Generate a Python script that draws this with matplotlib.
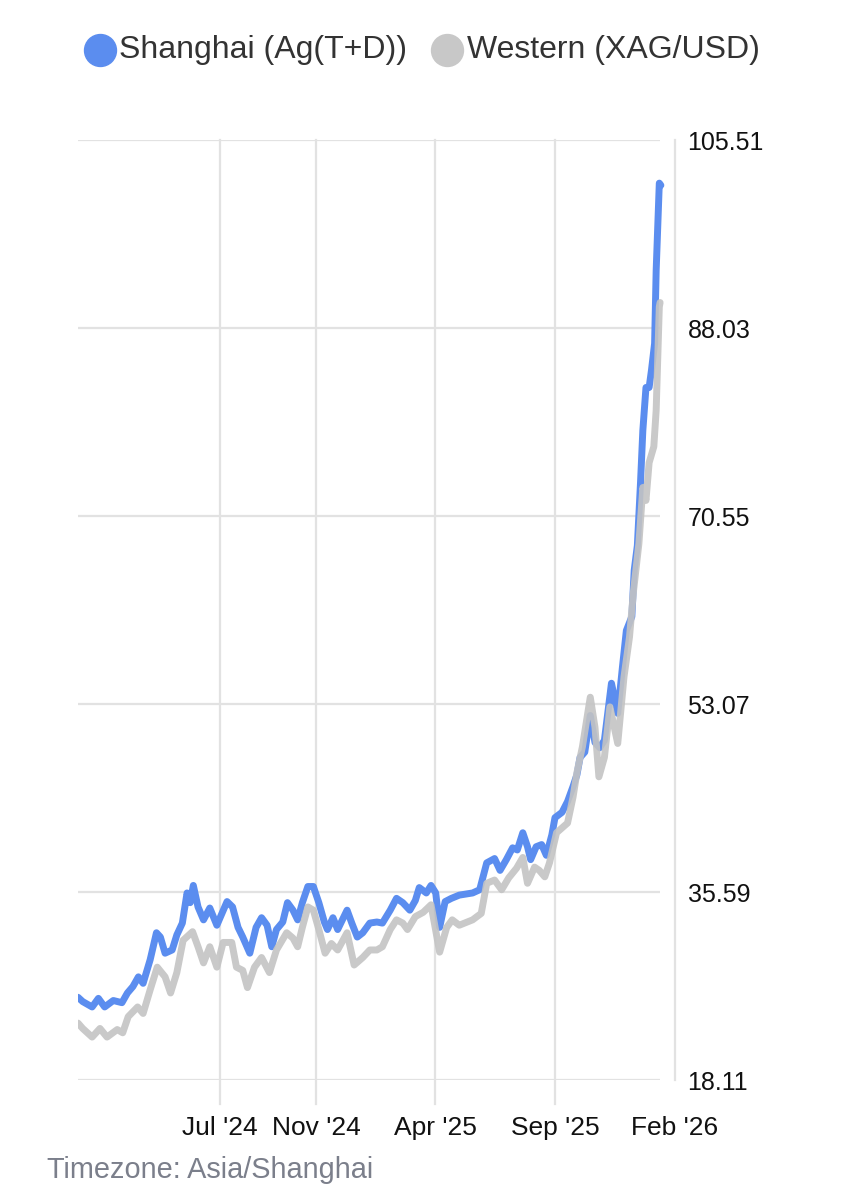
import matplotlib
matplotlib.use("Agg")
import matplotlib.pyplot as plt
from matplotlib.lines import Line2D
import pandas as pd

plt.rcParams['font.family'] = ['Liberation Sans', 'DejaVu Sans']

# Shanghai Ag(T+D), converted to USD/oz
sh_dates = ["2024-01-02", "2024-01-08", "2024-01-20", "2024-01-28", "2024-02-05", "2024-02-16", "2024-02-27",
            "2024-03-05", "2024-03-12", "2024-03-19", "2024-03-25", "2024-04-03", "2024-04-11", "2024-04-16",
            "2024-04-22", "2024-05-01", "2024-05-07", "2024-05-14", "2024-05-20", "2024-05-24", "2024-05-28",
            "2024-06-03", "2024-06-10", "2024-06-18", "2024-06-27", "2024-07-10", "2024-07-17", "2024-07-24",
            "2024-07-30", "2024-08-08", "2024-08-16", "2024-08-23", "2024-08-30", "2024-09-05", "2024-09-11",
            "2024-09-19", "2024-09-25", "2024-10-02", "2024-10-08", "2024-10-14", "2024-10-21", "2024-10-28",
            "2024-11-04", "2024-11-11", "2024-11-15", "2024-11-22", "2024-11-28", "2024-12-10", "2024-12-16",
            "2024-12-23", "2024-12-30", "2025-01-08", "2025-01-17", "2025-01-24", "2025-02-03", "2025-02-11",
            "2025-02-19", "2025-02-28", "2025-03-07", "2025-03-12", "2025-03-21", "2025-03-27", "2025-04-02",
            "2025-04-07", "2025-04-14", "2025-04-22", "2025-05-02", "2025-05-19", "2025-05-28", "2025-06-06",
            "2025-06-16", "2025-06-23", "2025-07-01", "2025-07-09", "2025-07-15", "2025-07-22", "2025-07-28",
            "2025-08-01", "2025-08-08", "2025-08-15", "2025-08-21", "2025-08-28", "2025-09-01", "2025-09-10",
            "2025-09-17", "2025-09-24", "2025-09-29", "2025-10-03", "2025-10-09", "2025-10-16", "2025-10-22",
            "2025-10-28", "2025-11-03", "2025-11-12", "2025-11-20", "2025-11-26", "2025-12-01", "2025-12-08",
            "2025-12-11", "2025-12-15", "2025-12-19", "2025-12-22", "2025-12-26", "2025-12-30", "2026-01-02",
            "2026-01-06", "2026-01-08", "2026-01-12", "2026-01-14"]
sh_vals = [25.8, 25.4, 24.9, 25.7, 24.9, 25.5, 25.3,
           26.2, 26.8, 27.7, 27.1, 29.3, 31.8, 31.4,
           29.9, 30.2, 31.6, 32.7, 35.5, 34.6, 36.2,
           34.2, 33.0, 34.1, 32.5, 34.7, 34.2, 32.3,
           31.4, 29.9, 32.3, 33.2, 32.5, 30.5, 32.1,
           32.8, 34.6, 33.9, 33.0, 34.6, 36.1, 36.1,
           34.6, 32.8, 32.1, 33.2, 32.1, 33.9, 32.7,
           31.4, 31.8, 32.7, 32.8, 32.7, 33.9, 35.0,
           34.6, 33.9, 34.8, 36.0, 35.5, 36.2, 35.5,
           32.3, 34.7, 35.0, 35.3, 35.5, 35.8, 38.3,
           38.7, 37.6, 38.6, 39.7, 39.5, 41.1, 39.8,
           38.6, 39.8, 40.0, 39.0, 40.9, 42.5, 43.0,
           44.0, 45.4, 46.5, 48.1, 48.6, 52.0, 49.5,
           49.0, 49.7, 55.0, 52.2, 56.5, 59.9, 61.2,
           65.5, 67.8, 73.6, 78.5, 82.5, 82.5, 84.1,
           86.6, 93.4, 101.5, 101.3]

# Western XAG/USD
we_dates = ["2024-01-02", "2024-01-08", "2024-01-20", "2024-01-30", "2024-02-08", "2024-02-21", "2024-02-28",
            "2024-03-06", "2024-03-18", "2024-03-25", "2024-04-03", "2024-04-12", "2024-04-22", "2024-04-29",
            "2024-05-07", "2024-05-15", "2024-05-27", "2024-06-03", "2024-06-10", "2024-06-18", "2024-06-27",
            "2024-07-05", "2024-07-16", "2024-07-22", "2024-07-30", "2024-08-05", "2024-08-14", "2024-08-23",
            "2024-09-02", "2024-09-11", "2024-09-24", "2024-10-02", "2024-10-08", "2024-10-14", "2024-10-21",
            "2024-10-28", "2024-11-04", "2024-11-12", "2024-11-20", "2024-11-28", "2024-12-10", "2024-12-19",
            "2024-12-30", "2025-01-08", "2025-01-17", "2025-01-24", "2025-02-03", "2025-02-11", "2025-02-19",
            "2025-02-25", "2025-03-07", "2025-03-17", "2025-03-27", "2025-04-07", "2025-04-16", "2025-04-23",
            "2025-05-02", "2025-05-19", "2025-05-30", "2025-06-06", "2025-06-16", "2025-06-25", "2025-07-04",
            "2025-07-14", "2025-07-22", "2025-07-28", "2025-08-06", "2025-08-12", "2025-08-19", "2025-08-25",
            "2025-09-03", "2025-09-17", "2025-09-24", "2025-09-29", "2025-10-06", "2025-10-16", "2025-10-22",
            "2025-10-27", "2025-11-03", "2025-11-10", "2025-11-20", "2025-11-28", "2025-12-05", "2025-12-10",
            "2025-12-17", "2025-12-22", "2025-12-26", "2025-12-30", "2026-01-05", "2026-01-08", "2026-01-12",
            "2026-01-13"]
we_vals = [23.4, 22.9, 22.1, 22.9, 22.1, 22.8, 22.5,
           24.0, 24.9, 24.3, 26.5, 28.6, 27.7, 26.2,
           28.1, 31.1, 31.9, 30.5, 29.0, 30.5, 28.6,
           30.9, 30.9, 28.6, 28.3, 26.7, 28.6, 29.5,
           28.1, 30.2, 31.8, 31.3, 30.5, 32.3, 34.2,
           33.9, 32.1, 29.9, 30.8, 30.2, 31.8, 28.8,
           29.5, 30.2, 30.2, 30.5, 32.1, 33.0, 32.7,
           32.1, 33.3, 33.7, 34.4, 30.0, 32.3, 33.0,
           32.5, 33.0, 33.6, 36.4, 36.7, 35.8, 36.9,
           37.8, 38.8, 36.4, 37.9, 37.6, 37.0, 38.3,
           41.1, 42.0, 44.4, 46.7, 49.1, 53.7, 50.9,
           46.3, 48.1, 52.8, 49.4, 55.6, 59.3, 63.5,
           68.0, 73.2, 72.0, 75.5, 77.0, 80.4, 90.0,
           90.4]

y_ticks = [18.11, 35.59, 53.07, 70.55, 88.03, 105.51]
x_tick_dates = ["2024-07-01", "2024-11-01", "2025-04-01", "2025-09-01", "2026-02-01"]
x_tick_labels = ["Jul '24", "Nov '24", "Apr '25", "Sep '25", "Feb '26"]

blue = "#5b8def"
grey = "#c3c3c3"
grid_c = "#e2e2e2"

fig = plt.figure(figsize=(8.43, 12), dpi=100)
ax = fig.add_axes([78 / 843, 0.1, (675 - 78) / 843, (1080 - 140) / 1200])

sh_x = pd.to_datetime(sh_dates)
we_x = pd.to_datetime(we_dates)
ax.plot(sh_x, sh_vals, color=blue, lw=5.0, solid_joinstyle="round", solid_capstyle="round", zorder=3)
ax.plot(we_x, we_vals, color=grey, lw=5.0, alpha=0.9, solid_joinstyle="round", solid_capstyle="round", zorder=4)

ax.set_xlim(pd.Timestamp("2024-01-02"), pd.Timestamp("2026-02-01"))
ax.set_ylim(y_ticks[0], y_ticks[-1])

# gridlines drawn by hand so they stop short of the right axis
ax.hlines(y_ticks, 0, 0.975, transform=ax.get_yaxis_transform(), color=grid_c, lw=1.6, zorder=1)
tick_x = pd.to_datetime(x_tick_dates)
for d in tick_x[:-1]:
    ax.plot([d, d], [-0.025, 1], transform=ax.get_xaxis_transform(), color=grid_c, lw=1.6,
            clip_on=False, zorder=1)

for s in ["top", "left", "bottom"]:
    ax.spines[s].set_visible(False)
ax.spines["right"].set_color(grid_c)
ax.spines["right"].set_linewidth(1.6)

ax.yaxis.tick_right()
ax.set_yticks(y_ticks)
ax.set_yticklabels([f"{v:.2f}" for v in y_ticks])
ax.tick_params(axis="y", length=0, pad=9, labelsize=18, labelcolor="#111111")
ax.set_xticks(tick_x)
ax.set_xticklabels(x_tick_labels)
ax.tick_params(axis="x", length=0, pad=26, labelsize=19, labelcolor="#111111")

# legend
fig.add_artist(Line2D([100 / 843], [1 - 50 / 1200], marker="o", markersize=23, color=blue,
                      transform=fig.transFigure))
fig.text(119 / 843, 1 - 50 / 1200, "Shanghai (Ag(T+D))", fontsize=23, color="#333333", va="center")
fig.add_artist(Line2D([447 / 843], [1 - 50 / 1200], marker="o", markersize=23, color="#c8c8c8",
                      transform=fig.transFigure))
fig.text(467 / 843, 1 - 50 / 1200, "Western (XAG/USD)", fontsize=23, color="#333333", va="center")

fig.text(47 / 843, 1 - 1170 / 1200, "Timezone: Asia/Shanghai", fontsize=20.8, color="#7b7f8b", va="center")

fig.savefig("out.png", dpi=100, facecolor="white")
